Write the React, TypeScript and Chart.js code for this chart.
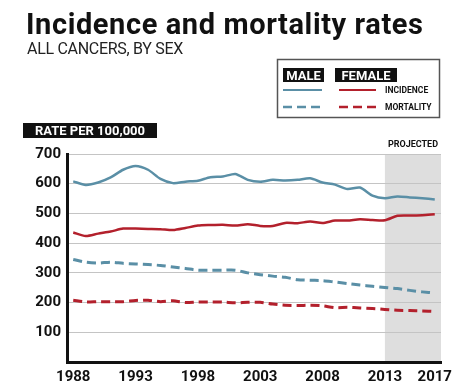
import React, { useEffect, useRef } from "react";
import { Chart, registerables } from "chart.js";

Chart.register(...registerables);

const years = [
  1988, 1989, 1990, 1991, 1992, 1993, 1994, 1995, 1996, 1997,
  1998, 1999, 2000, 2001, 2002, 2003, 2004, 2005, 2006, 2007,
  2008, 2009, 2010, 2011, 2012, 2013, 2014, 2015, 2016, 2017,
];
const maleIncidence = [
  608, 596, 604, 621, 647, 660, 647, 616, 602, 607,
  610, 622, 624, 633, 613, 607, 613, 611, 613, 618,
  604, 597, 582, 587, 560, 551, 557, 554, 551, 547,
];
const femaleIncidence = [
  436, 424, 432, 439, 449, 449, 448, 447, 444, 451,
  459, 461, 462, 459, 464, 458, 458, 468, 467, 473,
  468, 476, 476, 480, 478, 477, 492, 493, 494, 497,
];
const maleMortality = [
  345, 336, 333, 336, 332, 330, 328, 325, 320, 315,
  309, 309, 309, 309, 300, 294, 289, 285, 277, 275,
  274, 269, 264, 259, 255, 251, 247, 241, 236, 232,
];
const femaleMortality = [
  208, 202, 203, 203, 203, 207, 208, 203, 206, 200,
  202, 202, 202, 199, 201, 201, 195, 191, 190, 191,
  189, 183, 184, 182, 180, 177, 174, 173, 172, 170,
];
const xTickYears = [1988, 1993, 1998, 2003, 2008, 2013, 2017];
const yTickValues = [100, 200, 300, 400, 500, 600, 700];
const projectedFrom = 2013;

const BLUE = "#5a8fa6";
const RED = "#b3202c";
const FONT = "Roboto, 'Open Sans', sans-serif";

export default function App() {
  const ref = useRef<HTMLCanvasElement | null>(null);

  useEffect(() => {
    document.body.style.margin = "0";
    const canvas = ref.current;
    if (!canvas) return;
    const pts = (arr: number[]) => years.map((y, i) => ({ x: y, y: arr[i] }));

    const shade = {
      id: "shade",
      beforeDraw(chart: any) {
        const { ctx, chartArea, scales } = chart;
        const x0 = scales.x.getPixelForValue(projectedFrom);
        ctx.save();
        ctx.fillStyle = "#dedede";
        ctx.fillRect(x0, chartArea.top, chartArea.right - x0, chartArea.bottom - chartArea.top);
        ctx.fillStyle = "#111";
        ctx.font = `bold 9px ${FONT}`;
        ctx.textAlign = "center";
        ctx.textBaseline = "middle";
        ctx.fillText("PROJECTED", (x0 + chartArea.right) / 2, chartArea.top - 9);
        ctx.restore();
      },
    };

    const chart = new Chart(canvas, {
      type: "line",
      data: {
        datasets: [
          { label: "Male incidence", data: pts(maleIncidence), borderColor: BLUE, borderWidth: 2.5, pointRadius: 0, tension: 0.25 },
          { label: "Female incidence", data: pts(femaleIncidence), borderColor: RED, borderWidth: 2.5, pointRadius: 0, tension: 0.25 },
          { label: "Male mortality", data: pts(maleMortality), borderColor: BLUE, borderWidth: 3, borderDash: [9, 5], pointRadius: 0, tension: 0.25 },
          { label: "Female mortality", data: pts(femaleMortality), borderColor: RED, borderWidth: 3, borderDash: [9, 5], pointRadius: 0, tension: 0.25 },
        ],
      },
      options: {
        responsive: false,
        animation: false,
        devicePixelRatio: 1,
        layout: { padding: { top: 154, right: 32, left: 0, bottom: 0 } },
        plugins: { legend: { display: false }, tooltip: { enabled: false } },
        scales: {
          x: {
            type: "linear",
            min: 1987.5,
            max: 2017.5,
            grid: { display: false, drawTicks: false },
            border: { display: true, color: "#111", width: 3 },
            ticks: {
              padding: 6,
              color: "#111",
              font: { family: FONT, size: 15, weight: "bold" },
              callback: (v: any) => String(v),
              maxRotation: 0,
              autoSkip: false,
            },
            afterBuildTicks: (s: any) => {
              s.ticks = xTickYears.map((v) => ({ value: v }));
            },
            afterFit: (s: any) => {
              s.height = 27;
            },
          },
          y: {
            min: 0,
            max: 700,
            grid: { color: "#c4c4c4", lineWidth: 1, drawTicks: false },
            border: { display: true, color: "#111", width: 3 },
            ticks: {
              padding: 6,
              color: "#111",
              font: { family: FONT, size: 15, weight: "bold" },
              callback: (v: any) => (yTickValues.includes(v) ? String(v) : ""),
            },
            afterBuildTicks: (s: any) => {
              s.ticks = [0, ...yTickValues].map((v) => ({ value: v }));
            },
            afterFit: (s: any) => {
              s.width = 67;
            },
          },
        },
      },
      plugins: [shade],
    } as any);
    return () => chart.destroy();
  }, []);

  return (
    <div style={{ position: "absolute", left: 0, top: 0, width: 473, height: 389, background: "#fff", fontFamily: FONT, overflow: "hidden" }}>
      <canvas ref={ref} width={473} height={389} style={{ position: "absolute", left: 0, top: 0 }} />
      <div style={{ position: "absolute", left: 26, top: 10, fontSize: 29, fontWeight: 700, lineHeight: 1, letterSpacing: 0.6, color: "#111", whiteSpace: "nowrap" }}>
        Incidence and mortality rates
      </div>
      <div style={{ position: "absolute", left: 27, top: 41, fontSize: 16, fontWeight: 400, lineHeight: 1, letterSpacing: -0.3, color: "#222", whiteSpace: "nowrap" }}>
        ALL CANCERS, BY SEX
      </div>
      <svg style={{ position: "absolute", left: 0, top: 0 }} width={473} height={140}>
        <rect x={277.5} y={59.5} width={162} height={58} fill="#fff" stroke="#555" strokeWidth={1.5} />
        <rect x={283} y={68} width={41} height={14} fill="#111" />
        <text x={303.5} y={79.5} fill="#fff" fontSize={13} fontWeight={700} textAnchor="middle" fontFamily={FONT}>MALE</text>
        <rect x={335} y={68} width={62} height={14} fill="#111" />
        <text x={366} y={79.5} fill="#fff" fontSize={13} fontWeight={700} textAnchor="middle" fontFamily={FONT}>FEMALE</text>
        <line x1={283} y1={90} x2={322} y2={90} stroke={BLUE} strokeWidth={2} />
        <line x1={339} y1={90} x2={376} y2={90} stroke={RED} strokeWidth={2} />
        <line x1={283} y1={107} x2={322} y2={107} stroke={BLUE} strokeWidth={2.5} strokeDasharray="9,5" />
        <line x1={339} y1={107} x2={376} y2={107} stroke={RED} strokeWidth={2.5} strokeDasharray="9,5" />
        <text x={385} y={93} fill="#111" fontSize={8.5} fontWeight={700} fontFamily={FONT}>INCIDENCE</text>
        <text x={385} y={110} fill="#111" fontSize={8.5} fontWeight={700} fontFamily={FONT}>MORTALITY</text>
        <rect x={23} y={123} width={134} height={15} fill="#111" />
        <text x={90} y={135} fill="#fff" fontSize={13} fontWeight={700} textAnchor="middle" fontFamily={FONT}>RATE PER 100,000</text>
      </svg>
    </div>
  );
}
